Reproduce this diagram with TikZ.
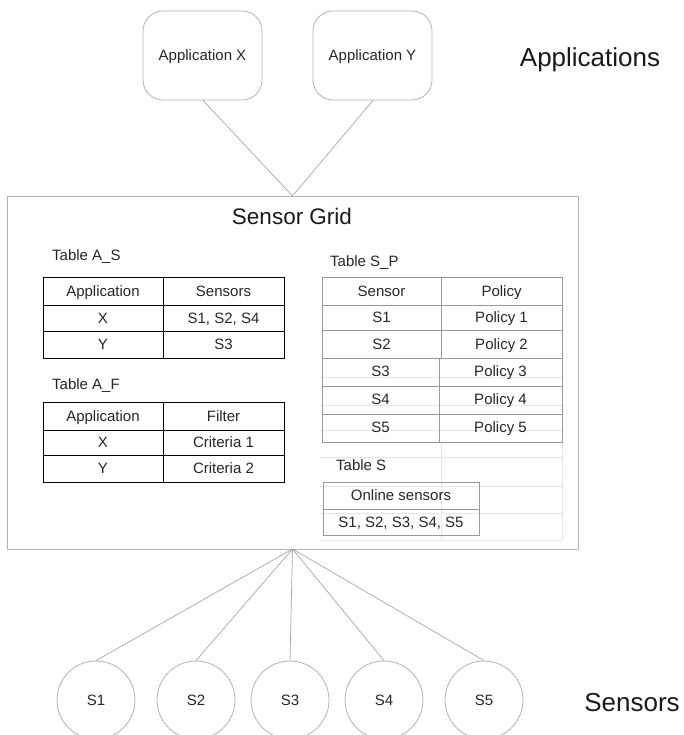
\documentclass[tikz,border=0pt]{standalone}
\usepackage{fontspec}
\setmainfont{Liberation Sans}
\begin{document}
\begin{tikzpicture}[x=1pt,y=-1pt,
  link/.style={draw=black!35, line width=0.7pt},
  appbox/.style={draw=black!30, line width=0.8pt, rounded corners=20pt,
    minimum width=119pt, minimum height=89pt, inner sep=0pt},
  sensorcirc/.style={circle, draw=black!30, line width=0.8pt,
    minimum size=78pt, inner sep=0pt},
  txt/.style={inner sep=0pt, text height=10.7pt, text depth=0pt,
    text=black!85, font=\fontsize{15}{18}\selectfont},
  bigtxt/.style={inner sep=0pt, text height=18.6pt, text depth=0pt,
    text=black!90, font=\fontsize{26}{30}\selectfont},
  titletxt/.style={inner sep=0pt, text height=16.1pt, text depth=0pt,
    text=black!90, font=\fontsize{22.5}{26}\selectfont},
  tblA/.style={draw=black, line width=0.9pt},
  tblS/.style={draw=black!40, line width=0.8pt},
  ghost/.style={draw=black!10, line width=0.6pt}
]
\useasboundingbox (0,0) rectangle (683,735);

% application nodes
\node[appbox] (appx) at (202.5,55.5) {};
\node[txt] (appxt) at (202.5,55) {Application X};
\node[appbox] (appy) at (372.5,55.5) {};
\node[txt] (appyt) at (372.5,55) {Application Y};
\node[bigtxt] (applab) at (590,57) {Applications};

% sensor grid box
\node[draw=black!30, line width=0.8pt, minimum width=571pt, minimum height=353pt,
  inner sep=0pt] (grid) at (292.5,372.5) {};
\coordinate (gtop) at (292.5,196);
\coordinate (gbot) at (292.5,549);
\node[titletxt] (gridt) at (292,216) {Sensor Grid};

% connectors from applications to the grid
\draw[link] (appx.south) ++(0.5,0) -- (gtop);
\draw[link] (appy.south) ++(0.5,0) -- (gtop);

% faint leftover grid lines below table S_P
\foreach \yy in {377,405,430,457,486,513,540}
  \draw[ghost] (320,\yy) -- (562,\yy);
\draw[ghost] (441,442) -- (441,540);
\draw[ghost] (562,442) -- (562,540);

% Table A_S
\node[txt, anchor=west] (tas) at (52,255) {Table A\_S};
\draw[tblA] (43,277) rectangle (284,358);
\draw[tblA] (163,277) -- (163,358);
\draw[tblA] (43,305) -- (284,305);
\draw[tblA] (43,331) -- (284,331);
\node[txt] (as11) at (103,291) {Application};
\node[txt] (as12) at (223.5,291) {Sensors};
\node[txt] (as21) at (103,318) {X};
\node[txt] (as22) at (223.5,318) {S1, S2, S4};
\node[txt] (as31) at (103,344.5) {Y};
\node[txt] (as32) at (223.5,344.5) {S3};

% Table A_F
\node[txt, anchor=west] (taf) at (52,384) {Table A\_F};
\draw[tblA] (43,402) rectangle (284,482);
\draw[tblA] (163,402) -- (163,482);
\draw[tblA] (43,430) -- (284,430);
\draw[tblA] (43,455) -- (284,455);
\node[txt] (af11) at (103,416) {Application};
\node[txt] (af12) at (223.5,416) {Filter};
\node[txt] (af21) at (103,442.5) {X};
\node[txt] (af22) at (223.5,442.5) {Criteria 1};
\node[txt] (af31) at (103,468.5) {Y};
\node[txt] (af32) at (223.5,468.5) {Criteria 2};

% Table S_P
\node[txt, anchor=west] (tsp) at (330,261) {Table S\_P};
\draw[tblS] (322,277) rectangle (562,442);
\draw[tblS] (441,277) -- (441,358);
\draw[tblS] (439,358) -- (439,442);
\foreach \yy in {305,330,358,386,414}
  \draw[tblS] (322,\yy) -- (562,\yy);
\node[txt] (sp11) at (381.5,291) {Sensor};
\node[txt] (sp12) at (501.5,291) {Policy};
\node[txt] (sp21) at (381.5,317.5) {S1};
\node[txt] (sp22) at (501.5,317.5) {Policy 1};
\node[txt] (sp31) at (381.5,344) {S2};
\node[txt] (sp32) at (501.5,344) {Policy 2};
\node[txt] (sp41) at (380.5,371) {S3};
\node[txt] (sp42) at (500.5,371) {Policy 3};
\node[txt] (sp51) at (380.5,399.5) {S4};
\node[txt] (sp52) at (500.5,399.5) {Policy 4};
\node[txt] (sp61) at (380.5,427.5) {S5};
\node[txt] (sp62) at (500.5,427.5) {Policy 5};

% Table S
\node[txt, anchor=west] (ts) at (336,465) {Table S};
\draw[tblS] (323,482) rectangle (479,535);
\draw[tblS] (323,509) -- (479,509);
\node[txt] (ts1) at (401,495.5) {Online sensors};
\node[txt] (ts2) at (401,522) {S1, S2, S3, S4, S5};

% sensors
\foreach \n/\xx in {1/96,2/196,3/290,4/384,5/484} {
  \node[sensorcirc] (s\n) at (\xx,700) {};
  \node[txt] (s\n t) at (\xx,700) {S\n};
  \draw[link] (gbot) -- (s\n.north);
}
\node[bigtxt] (senlab) at (632,702) {Sensors};
\end{tikzpicture}
\end{document}
